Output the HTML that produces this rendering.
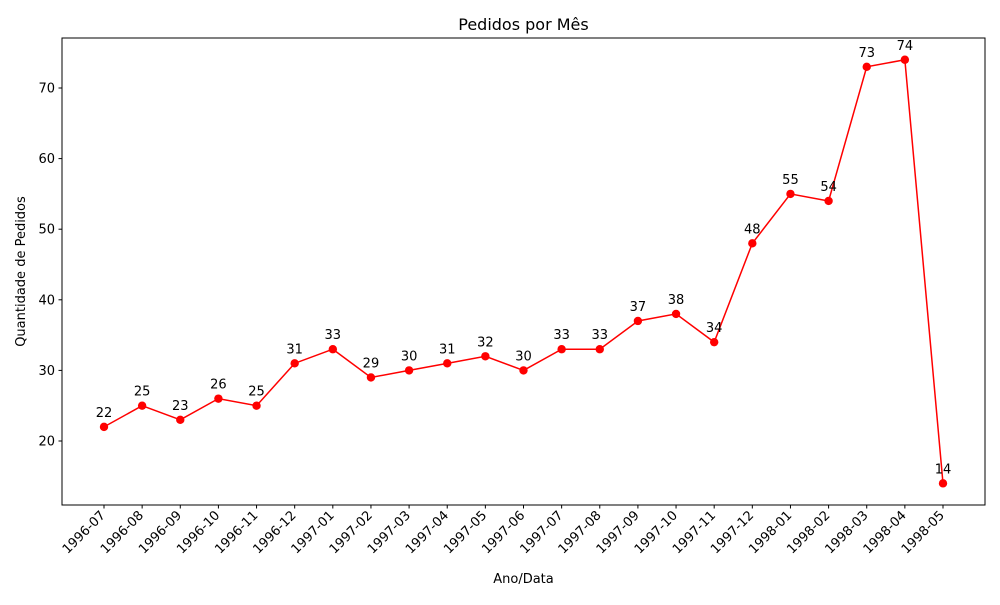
<!DOCTYPE html>
<html><head><meta charset="utf-8"><style>
body{margin:0;background:#fff;}
svg text{font-family:"DejaVu Sans","Liberation Sans",sans-serif;}
</style></head><body>
<svg id="chart" width="1000" height="600" xmlns="http://www.w3.org/2000/svg">
<rect width="1000" height="600" fill="#fff"/>
<text x="523.5" y="30" font-size="16" text-anchor="middle">Pedidos por Mês</text>
<rect x="62" y="38" width="923" height="467" fill="none" stroke="#000" stroke-width="1"/>
<g id="yaxis"></g>
<g id="xaxis"></g>
<g id="series"></g>
<text x="523.5" y="583" font-size="13" text-anchor="middle">Ano/Data</text>
<text transform="translate(25,271.5) rotate(-90)" font-size="13" text-anchor="middle">Quantidade de Pedidos</text>
</svg>
<script>
const categories=["1996-07","1996-08","1996-09","1996-10","1996-11","1996-12","1997-01","1997-02","1997-03","1997-04","1997-05","1997-06","1997-07","1997-08","1997-09","1997-10","1997-11","1997-12","1998-01","1998-02","1998-03","1998-04","1998-05"];
const values=[22,25,23,26,25,31,33,29,30,31,32,30,33,33,37,38,34,48,55,54,73,74,14];
const yTicks=[20,30,40,50,60,70];
const NS="http://www.w3.org/2000/svg";
function xs(i){return 104+i*(943-104)/(categories.length-1);}
function ys(v){return 441-(v-20)*(441-88)/50;}
function mk(t,a,p){const e=document.createElementNS(NS,t);for(const k in a)e.setAttribute(k,a[k]);p.appendChild(e);return e;}
const ya=document.getElementById('yaxis'),xa=document.getElementById('xaxis'),se=document.getElementById('series');
yTicks.forEach(v=>{
  const y=ys(v);
  const l=mk('line',{x1:58.5,x2:62,y1:y,y2:y,stroke:'#000'},ya);
  
  
  const t=mk('text',{x:55,y:y+4.5,'font-size':13,'text-anchor':'end'},ya);t.textContent=v;
  
  
});
categories.forEach((c,i)=>{
  const x=xs(i);
  const l=mk('line',{x1:x,x2:x,y1:505,y2:508.5,stroke:'#000'},xa);
  
  
  const t=mk('text',{transform:`translate(${x+2},${516}) rotate(-45)`,'font-size':13,'text-anchor':'end'},xa);t.textContent=c;
  
  
});
const pts=values.map((v,i)=>xs(i)+','+ys(v)).join(' ');
const pl=mk('polyline',{points:pts,fill:'none',stroke:'#ff0000','stroke-width':1.5},se);


values.forEach((v,i)=>{
  const c=mk('circle',{cx:xs(i),cy:ys(v),r:4.2,fill:'#ff0000'},se);
  
  
  const t=mk('text',{x:xs(i),y:ys(v)-10,'font-size':13,'text-anchor':'middle'},se);t.textContent=v;
  
  
});
</script>
</body></html>
